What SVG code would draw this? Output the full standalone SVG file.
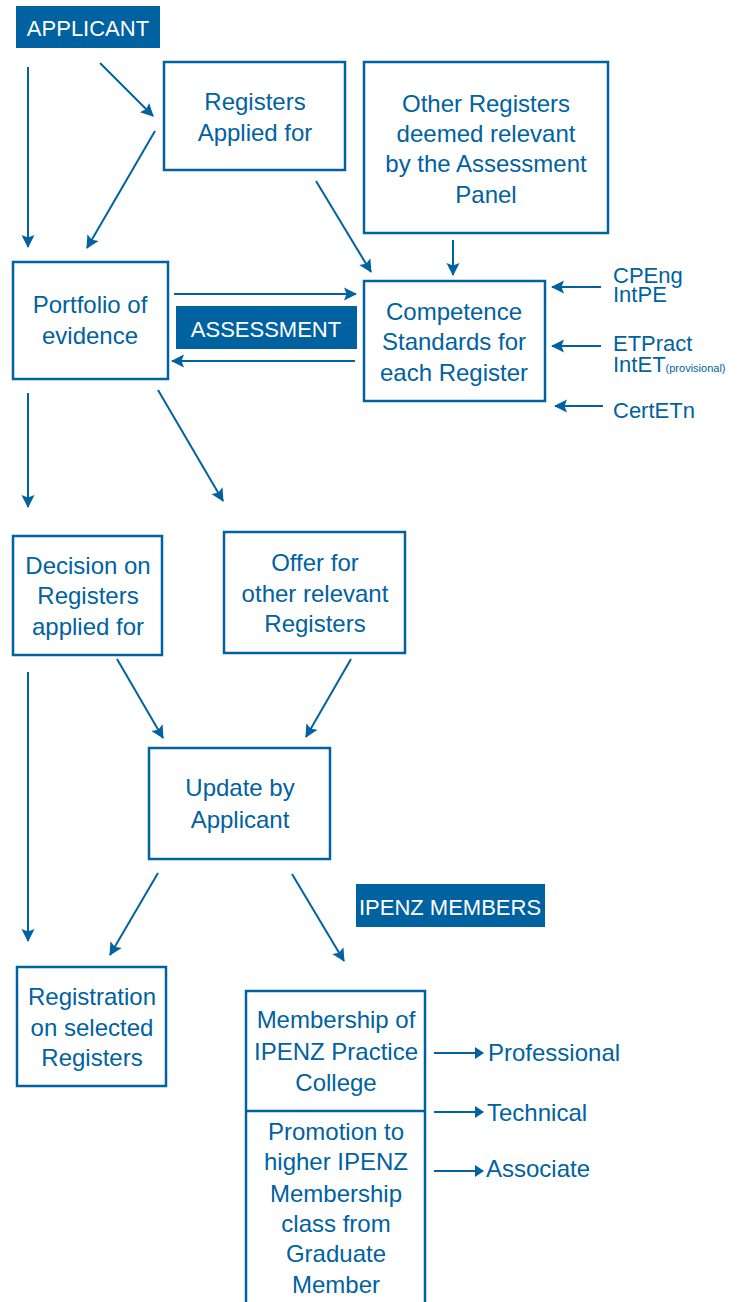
<svg xmlns="http://www.w3.org/2000/svg" width="745" height="1302" viewBox="0 0 745 1302">
<style>
text{font-family:"Liberation Sans",Arial,sans-serif;fill:#0062A1;font-size:24px;text-anchor:middle}
.box{fill:#fff;stroke:#0062A1;stroke-width:2.5}
.band{fill:#0062A1}
.wt{fill:#fff;font-size:22px}
.ln{stroke:#0062A1;stroke-width:2;fill:none;marker-end:url(#ah)}
.sl{stroke:#0062A1;stroke-width:2;fill:none;marker-end:url(#sh)}
.lt{text-anchor:start}
.rl{text-anchor:start;font-size:22px}
</style>
<defs>
<marker id="ah" markerUnits="userSpaceOnUse" markerWidth="14" markerHeight="14" refX="12" refY="7" orient="auto" viewBox="0 0 14 14">
<path d="M0,0.5 L13,7 L0,13.5 L2.5,7 Z" fill="#0062A1"/>
</marker>
<marker id="sh" markerUnits="userSpaceOnUse" markerWidth="10" markerHeight="14" refX="8" refY="7" orient="auto" viewBox="0 0 10 14">
<path d="M0,1 L9,7 L0,13 Z" fill="#0062A1"/>
</marker>
</defs>

<g id="applicant">
<rect class="band" x="16" y="6" width="144" height="42"/>
<text class="wt" x="88" y="35.5">APPLICANT</text>
</g>

<g id="registers-applied">
<rect class="box" x="164" y="62" width="181" height="108"/>
<text x="255" y="110">Registers</text>
<text x="255" y="141">Applied for</text>
</g>

<g id="other-registers">
<rect class="box" x="364" y="62" width="244" height="171"/>
<text x="486" y="112">Other Registers</text>
<text x="486" y="142">deemed relevant</text>
<text x="486" y="172">by the Assessment</text>
<text x="486" y="203">Panel</text>
</g>

<g id="competence">
<rect class="box" x="364" y="281" width="181" height="120"/>
<text x="454" y="320">Competence</text>
<text x="454" y="350">Standards for</text>
<text x="454" y="381">each Register</text>
</g>

<g id="portfolio">
<rect class="box" x="13" y="262" width="155" height="117"/>
<text x="90" y="313">Portfolio of</text>
<text x="90" y="344">evidence</text>
</g>

<g id="assessment">
<rect class="band" x="176" y="306" width="181" height="43"/>
<text class="wt" x="266" y="336.5">ASSESSMENT</text>
</g>

<g id="register-labels">
<text class="rl" x="613" y="283">CPEng</text>
<text class="rl" x="613" y="302">IntPE</text>
<text class="rl" x="613" y="351">ETPract</text>
<text class="rl" x="613" y="372">IntET<tspan font-size="11">(provisional)</tspan></text>
<text class="rl" x="613" y="418">CertETn</text>
</g>

<g id="decision">
<rect class="box" x="13" y="536" width="149" height="119"/>
<text x="88" y="574">Decision on</text>
<text x="88" y="604">Registers</text>
<text x="88" y="635">applied for</text>
</g>

<g id="offer">
<rect class="box" x="224" y="532" width="181" height="121"/>
<text x="315" y="571">Offer for</text>
<text x="315" y="602">other relevant</text>
<text x="315" y="632">Registers</text>
</g>

<g id="update">
<rect class="box" x="149" y="748" width="181" height="111"/>
<text x="240" y="796">Update by</text>
<text x="240" y="828">Applicant</text>
</g>

<g id="registration">
<rect class="box" x="17" y="967" width="149" height="119"/>
<text x="92" y="1005">Registration</text>
<text x="92" y="1036">on selected</text>
<text x="92" y="1066">Registers</text>
</g>

<g id="ipenz-members">
<rect class="band" x="356" y="884" width="189" height="43"/>
<text class="wt" x="450" y="914.5">IPENZ MEMBERS</text>
</g>

<g id="membership">
<path d="M246,1310 V991 H425 V1310" fill="#fff" stroke="#0062A1" stroke-width="2.5"/>
<line x1="246" y1="1111" x2="425" y2="1111" stroke="#0062A1" stroke-width="2.5"/>
<text x="336" y="1028">Membership of</text>
<text x="336" y="1060">IPENZ Practice</text>
<text x="336" y="1091">College</text>
<text x="336" y="1140">Promotion to</text>
<text x="336" y="1170">higher IPENZ</text>
<text x="336" y="1202">Membership</text>
<text x="336" y="1232">class from</text>
<text x="336" y="1262">Graduate</text>
<text x="336" y="1293">Member</text>
</g>

<g id="class-labels">
<text class="lt" x="488" y="1061">Professional</text>
<text class="lt" x="487" y="1121">Technical</text>
<text class="lt" x="486" y="1177">Associate</text>
</g>

<g id="connectors">
<line class="ln" x1="28" y1="67" x2="28" y2="247"/>
<line class="ln" x1="100" y1="63" x2="153" y2="116"/>
<line class="ln" x1="155" y1="131" x2="87" y2="248"/>
<line class="ln" x1="316" y1="181" x2="371" y2="272"/>
<line class="ln" x1="453" y1="240" x2="453" y2="275"/>
<line class="ln" x1="601" y1="287" x2="552" y2="287"/>
<line class="ln" x1="601" y1="346" x2="552" y2="346"/>
<line class="ln" x1="603" y1="406" x2="555" y2="406"/>
<line class="ln" x1="174" y1="294" x2="356" y2="294"/>
<line class="ln" x1="355" y1="361" x2="172" y2="361"/>
<line class="ln" x1="28" y1="393" x2="28" y2="507"/>
<line class="ln" x1="158" y1="390" x2="223" y2="501"/>
<line class="ln" x1="117" y1="659" x2="163" y2="738"/>
<line class="ln" x1="351" y1="659" x2="306" y2="737"/>
<line class="ln" x1="28" y1="672" x2="28" y2="941"/>
<line class="ln" x1="158" y1="873" x2="110" y2="955"/>
<line class="ln" x1="292" y1="874" x2="344" y2="961"/>
<line class="sl" x1="434" y1="1053" x2="483" y2="1053"/>
<line class="sl" x1="434" y1="1112" x2="483" y2="1112"/>
<line class="sl" x1="434" y1="1171" x2="483" y2="1171"/>
</g>
</svg>
